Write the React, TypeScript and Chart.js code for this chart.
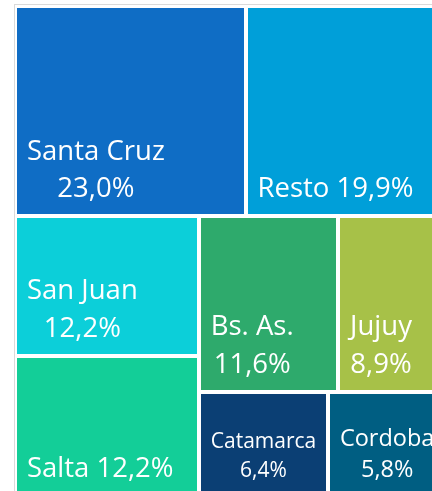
import React, { useEffect, useRef } from "react";
import { Chart, registerables } from "chart.js";

Chart.register(...registerables);

// ---- data ----
const categories = ["Santa Cruz", "Resto", "San Juan", "Salta", "Bs. As.", "Jujuy", "Catamarca", "Cordoba"];
const shares = [23.0, 19.9, 12.2, 12.2, 11.6, 8.9, 6.4, 5.8];
const splitLabel = [true, false, true, false, true, true, true, true];

// ---- styles ----
const colors = ["#0F6DC5", "#009FD9", "#0CCFD9", "#13CE98", "#2EAA6C", "#A7C148", "#0B3F74", "#005E82"];
const fontSizes = [27.5, 27.5, 27.5, 27.5, 27.5, 27.5, 21, 23.5];
const lineHeights = [37.7, 37.7, 37.7, 37.7, 38, 38, 29, 31.5];

// ---- treemap structure (slice directions over category indices) ----
type TNode = number | { dir: "h" | "v"; children: TNode[] };
const layoutTree: TNode = {
  dir: "v",
  children: [
    { dir: "h", children: [0, 1] },
    {
      dir: "h",
      children: [
        { dir: "v", children: [2, 3] },
        { dir: "v", children: [{ dir: "h", children: [4, 5] }, { dir: "h", children: [6, 7] }] },
      ],
    },
  ],
};

function nodeSum(n: TNode): number {
  return typeof n === "number" ? shares[n] : n.children.reduce((s, c) => s + nodeSum(c), 0);
}

type Rect = { x0: number; y0: number; x1: number; y1: number };
function layout(n: TNode, x0: number, y0: number, x1: number, y1: number, out: Rect[]) {
  if (typeof n === "number") {
    out[n] = { x0, y0, x1, y1 };
    return;
  }
  const total = nodeSum(n);
  let pos = n.dir === "h" ? x0 : y0;
  for (const c of n.children) {
    const frac = nodeSum(c) / total;
    if (n.dir === "h") {
      const w = (x1 - x0) * frac;
      layout(c, pos, y0, pos + w, y1, out);
      pos += w;
    } else {
      const h = (y1 - y0) * frac;
      layout(c, x0, pos, x1, pos + h, out);
      pos += h;
    }
  }
}

const fmt = (v: number) => v.toFixed(1).replace(".", ",") + "%";

const treemapPlugin = {
  id: "treemapCells",
  beforeDatasetsDraw(chart: any) {
    const ctx = chart.ctx as CanvasRenderingContext2D;
    const xs = chart.scales.x;
    const ys = chart.scales.y;
    const pts = chart.data.datasets[0].data as any[];
    ctx.save();
    // outer frame
    ctx.strokeStyle = "#DADADA";
    ctx.lineWidth = 1;
    const fx = Math.round(xs.getPixelForValue(0)) - 0.5;
    const fy = Math.round(ys.getPixelForValue(0)) - 1.5;
    ctx.strokeRect(fx, fy, xs.getPixelForValue(100) - fx + 2, ys.getPixelForValue(100) - fy + 2);
    pts.forEach((p, i) => {
      const r = p.rect as Rect;
      const l = xs.getPixelForValue(r.x0) + 2;
      const rr = xs.getPixelForValue(r.x1) - 2;
      const t = ys.getPixelForValue(r.y0) + 2;
      const b = ys.getPixelForValue(r.y1) - 2;
      ctx.fillStyle = colors[i];
      ctx.fillRect(Math.round(l), Math.round(t), Math.round(rr) - Math.round(l), Math.round(b) - Math.round(t));
    });
    ctx.restore();
  },
  afterDatasetsDraw(chart: any) {
    const ctx = chart.ctx as CanvasRenderingContext2D;
    const xs = chart.scales.x;
    const ys = chart.scales.y;
    const pts = chart.data.datasets[0].data as any[];
    ctx.save();
    ctx.fillStyle = "#FFFFFF";
    ctx.textBaseline = "alphabetic";
    ctx.textAlign = "left";
    pts.forEach((p, i) => {
      const r = p.rect as Rect;
      const l = xs.getPixelForValue(r.x0) + 2;
      const b = ys.getPixelForValue(r.y1) - 2;
      const lines = splitLabel[i] ? [categories[i], fmt(shares[i])] : [categories[i] + " " + fmt(shares[i])];
      ctx.font = `${fontSizes[i]}px "Open Sans"`;
      const widths = lines.map((s) => ctx.measureText(s).width);
      const bw = Math.max(...widths);
      lines.forEach((s, k) => {
        const y = b - 17 - (lines.length - 1 - k) * lineHeights[i];
        const x = l + 10 + (bw - widths[k]) / 2;
        ctx.fillText(s, x, y);
      });
    });
    ctx.restore();
  },
};

export default function App() {
  const ref = useRef<HTMLCanvasElement | null>(null);
  useEffect(() => {
    if (!ref.current) return;
    const rects: Rect[] = [];
    layout(layoutTree, 0, 0, 100, 100, rects);
    const data = rects.map((r, i) => ({ x: (r.x0 + r.x1) / 2, y: (r.y0 + r.y1) / 2, rect: r, label: categories[i] }));
    const chart = new Chart(ref.current, {
      type: "scatter",
      data: {
        datasets: [{ label: "Participación", data: data as any, pointRadius: 0, pointHoverRadius: 0 }],
      },
      options: {
        responsive: false,
        animation: false,
        events: [],
        layout: { padding: 0 },
        plugins: { legend: { display: false }, tooltip: { enabled: false } },
        scales: {
          x: { type: "linear", display: false, min: -15 / 4.3, max: 417 / 4.3 },
          y: { type: "linear", display: false, reverse: true, min: -6 / 4.9, max: 485 / 4.9 },
        },
      },
      plugins: [treemapPlugin],
    });
    return () => chart.destroy();
  }, []);
  return (
    <div style={{ position: "fixed", left: 0, top: 0, width: 432, height: 491, background: "#FFFFFF" }}>
      <canvas ref={ref} width={432} height={491} style={{ width: 432, height: 491, display: "block" }} />
    </div>
  );
}
